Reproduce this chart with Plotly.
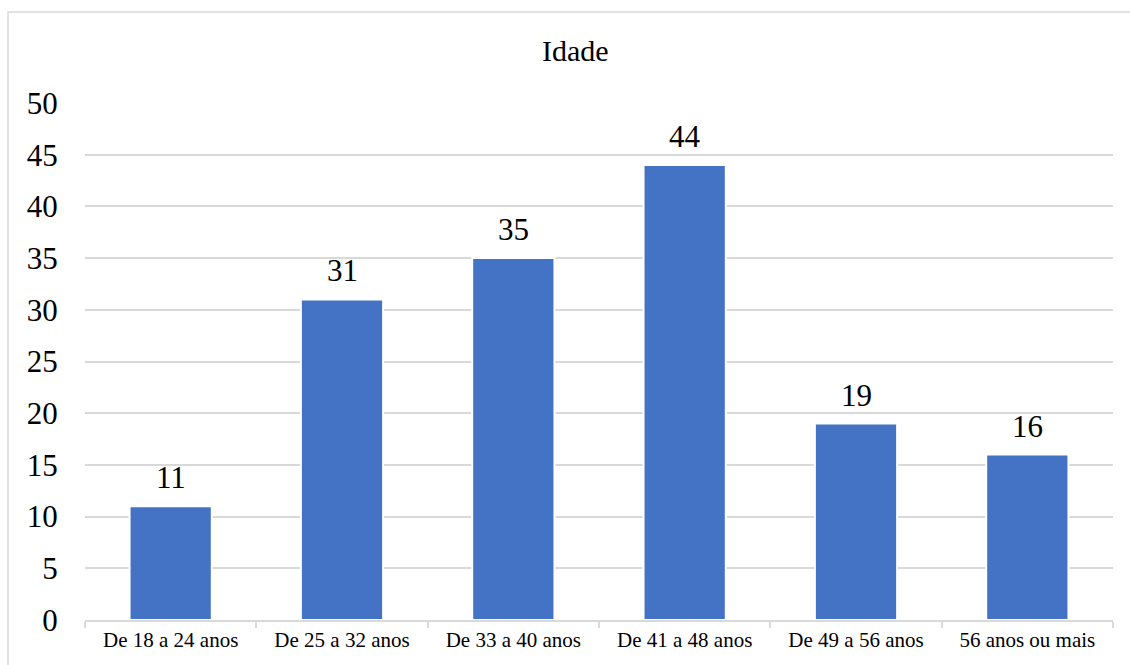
import plotly.graph_objects as go

# Faixas etárias e número de respondentes
categories = ["De 18 a 24 anos", "De 25 a 32 anos", "De 33 a 40 anos",
              "De 41 a 48 anos", "De 49 a 56 anos", "56 anos ou mais"]
counts = [11, 31, 35, 44, 19, 16]
y_ticks = [0, 5, 10, 15, 20, 25, 30, 35, 40, 45, 50]

FONT = "Liberation Serif"
BAR = "#4472C4"
GRID = "#D9D9D9"

W, H = 1130, 665
L, R, T, B = 85, 17, 103, 45
pw, ph = W - L - R, H - T - B


def px_x(p):
    return (p - L) / pw


def px_y(p):
    return (H - B - p) / ph


fig = go.Figure(go.Bar(
    x=categories,
    y=counts,
    marker=dict(color=BAR, line=dict(color="white", width=2)),
    width=0.48,
    hoverinfo="x+y",
))

# value labels above each bar
value_labels = [dict(
    x=c, y=v, xref="x", yref="y", text=str(v),
    xanchor="center", yanchor="bottom", yshift=9,
    showarrow=False, font=dict(family=FONT, size=31, color="black"),
) for c, v in zip(categories, counts)]

fig.update_layout(
    width=W, height=H,
    margin=dict(l=L, r=R, t=T, b=B),
    paper_bgcolor="white",
    plot_bgcolor="white",
    showlegend=False,
    font=dict(family=FONT, color="black"),
    xaxis=dict(
        showgrid=False,
        showline=True, linecolor=GRID, linewidth=1.5,
        ticks="outside", tickson="boundaries", ticklen=6,
        tickcolor=GRID, tickwidth=1.5,
        tickfont=dict(family=FONT, size=21, color="black"),
    ),
    yaxis=dict(
        range=[0, 50],
        tickvals=y_ticks,
        showgrid=True, gridcolor=GRID, gridwidth=1.5,
        zeroline=False, showline=False,
        ticks="outside", ticklen=20, tickcolor="rgba(0,0,0,0)",
        tickfont=dict(family=FONT, size=31, color="black"),
    ),
    annotations=value_labels + [dict(
        text="Idade", xref="paper", yref="paper",
        x=px_x(575), y=px_y(51), xanchor="center", yanchor="middle",
        showarrow=False, font=dict(family=FONT, size=30, color="black"),
    )],
    shapes=[dict(
        type="rect", xref="paper", yref="paper",
        x0=px_x(8), x1=px_x(1140), y0=px_y(680), y1=px_y(12),
        line=dict(color=GRID, width=1.5), fillcolor="rgba(0,0,0,0)",
        layer="below",
    )],
)

fig.write_html("out.html")
